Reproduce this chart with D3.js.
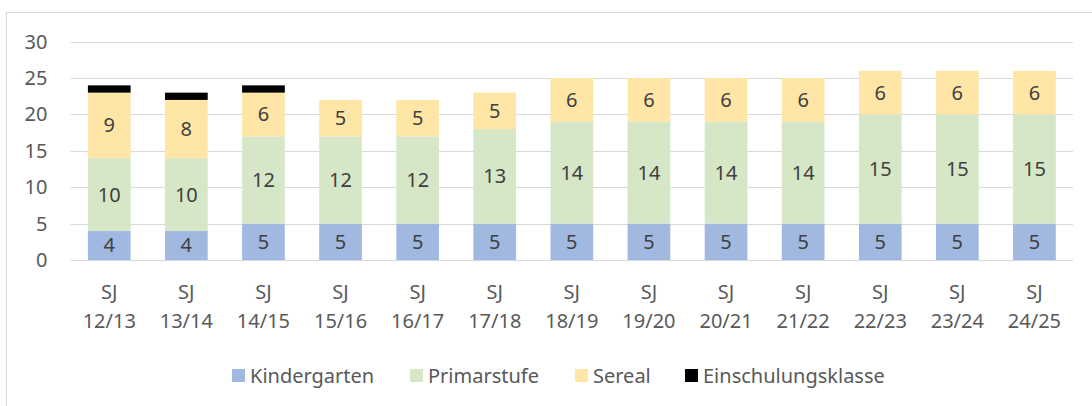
<!DOCTYPE html>
<html><head><meta charset="utf-8">
<script src="https://cdn.jsdelivr.net/npm/d3@7"></script>
<style>
body{margin:0;background:#fff;}
svg text{font-family:"Noto Sans",sans-serif;}
</style></head>
<body><svg id="c" width="1092" height="406"></svg>
<script>
const categories = ["SJ 12/13","SJ 13/14","SJ 14/15","SJ 15/16","SJ 16/17","SJ 17/18","SJ 18/19","SJ 19/20","SJ 20/21","SJ 21/22","SJ 22/23","SJ 23/24","SJ 24/25"];
const seriesNames = ["Kindergarten","Primarstufe","Sereal","Einschulungsklasse"];
const kindergarten = [4,4,5,5,5,5,5,5,5,5,5,5,5];
const primarstufe = [10,10,12,12,12,13,14,14,14,14,15,15,15];
const sereal = [9,8,6,5,5,5,6,6,6,6,6,6,6];
const einschulungsklasse = [1,1,1,0,0,0,0,0,0,0,0,0,0];
const yTicks = [0,5,10,15,20,25,30];
const colors = ["#A1B8E1","#D5E7C6","#FFE6A6","#000000"];
const showLabels = [true,true,true,false];

const rows = categories.map((c,i)=>({cat:c, Kindergarten:kindergarten[i], Primarstufe:primarstufe[i], Sereal:sereal[i], Einschulungsklasse:einschulungsklasse[i]}));
const stacked = d3.stack().keys(seriesNames)(rows);

const svg = d3.select("#c");
const FS = 20;
// outer border
svg.append("rect").attr("x",6.5).attr("y",12.5).attr("width",1200).attr("height",500)
  .attr("fill","none").attr("stroke","#D9D9D9").attr("stroke-width",1);

const pLeft=70.7, pRight=1073, pTop=41.7, pBottom=260;
const x = d3.scaleBand().domain(categories).range([pLeft,pRight]).paddingInner(0.446).paddingOuter(0.223);
const y = d3.scaleLinear().domain([0,30]).range([pBottom,pTop]);

// gridlines
svg.append("g").selectAll("line").data(yTicks).join("line")
  .attr("x1",pLeft).attr("x2",pRight).attr("y1",d=>Math.round(y(d))+0.5).attr("y2",d=>Math.round(y(d))+0.5)
  .attr("stroke","#D9D9D9").attr("stroke-width",1.2);

// y tick labels
svg.append("g").selectAll("text").data(yTicks).join("text")
  .attr("x",47.5).attr("y",d=>y(d)).attr("dy","0.35em").attr("text-anchor","end")
  .attr("font-size",FS).attr("fill","#595959").text(d=>d);

// bars
const g = svg.append("g");
stacked.forEach((s,si)=>{
  g.append("g").selectAll("rect").data(s).join("rect")
    .attr("x",d=>x(d.data.cat)).attr("width",x.bandwidth())
    .attr("y",d=>y(d[1])).attr("height",d=>y(d[0])-y(d[1]))
    .attr("fill",colors[si]);
  if(showLabels[si]){
    g.append("g").selectAll("text").data(s.filter(d=>d[1]-d[0]>0)).join("text")
      .attr("x",d=>x(d.data.cat)+x.bandwidth()/2).attr("y",d=>y((d[0]+d[1])/2)).attr("dy","0.35em")
      .attr("text-anchor","middle").attr("font-size",FS).attr("fill","#404040")
      .text(d=>d[1]-d[0]);
  }
});

// x labels
const xl = svg.append("g").selectAll("text").data(categories).join("text")
  .attr("x",d=>x(d)+x.bandwidth()/2).attr("text-anchor","middle").attr("font-size",FS).attr("fill","#595959");
xl.each(function(d){
  const parts=d.split(" ");
  const t=d3.select(this);
  t.append("tspan").attr("x",x(d)+x.bandwidth()/2).attr("y",299).text(parts[0]);
  t.append("tspan").attr("x",x(d)+x.bandwidth()/2).attr("y",328).text(parts[1]);
});

// legend
const legX=[232,410,575,685];
const lg = svg.append("g");
seriesNames.forEach((n,i)=>{
  lg.append("rect").attr("x",legX[i]).attr("y",369).attr("width",13).attr("height",13).attr("fill",colors[i]);
  lg.append("text").attr("x",legX[i]+18).attr("y",376).attr("dy","0.35em").attr("font-size",FS).attr("fill","#595959").text(n);
});
</script></body></html>
